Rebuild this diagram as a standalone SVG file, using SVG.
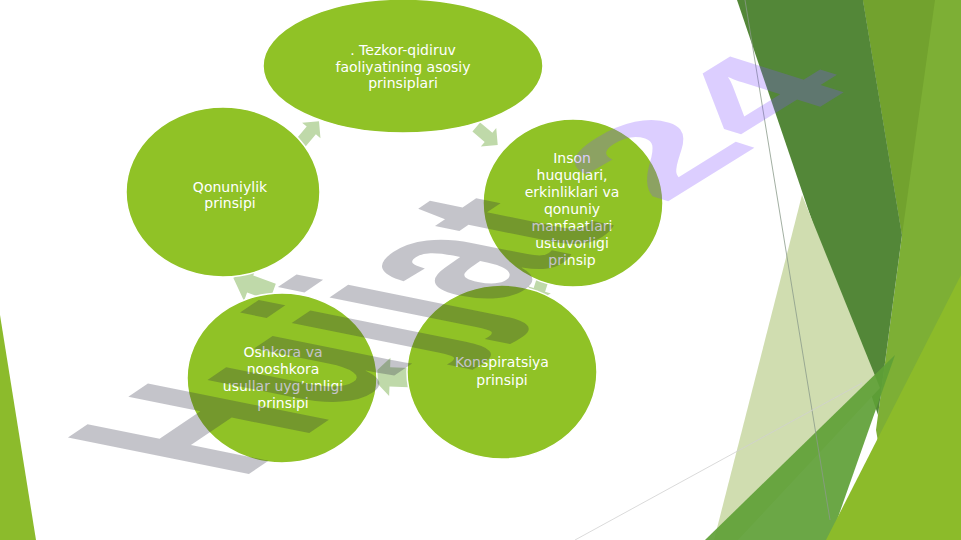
<svg xmlns="http://www.w3.org/2000/svg" width="961" height="540" viewBox="0 0 961 540">
<defs>
<style>
.node ellipse{fill:#90C226;stroke:#ffffff;stroke-width:1.5}
.lbl{font-family:"DejaVu Sans","Open Sans",sans-serif;font-size:14px;fill:#ffffff;text-anchor:middle}
.arr{fill:#bfd9a9}
.thin{fill:none;stroke-width:0.8}
</style>
<path id="arrowShape" d="M-14,-6 L2,-6 L2,-12 L14,0 L2,12 L2,6 L-14,6 Z"/>
</defs>
<rect width="961" height="540" fill="#ffffff"/>
<g id="decor">
<polygon points="0,315 36,540 0,540" fill="#8cbb2c"/>
<polygon points="863,0 961,0 961,540 895,540 876,430 902,235" fill="#7daf35"/>
<polygon points="863,0 935,0 902,235" fill="#72a22e"/>
<polygon points="737,0 863,0 902,235 878,415" fill="#538738"/>
<polygon points="802,195 880,388 738,540 714,540" fill="#d0ddb0"/>
<polygon points="705,540 830,540 895,355" fill="#5ea036" fill-opacity="0.92"/>
<polygon points="961,275 961,540 826,540" fill="#8cbb2a"/>
<line class="thin" x1="745" y1="0" x2="830" y2="520" stroke="#8a9a8a"/>
<line class="thin" x1="575" y1="540" x2="862" y2="383" stroke="#d0d0d0"/>
</g>
<g id="connectors">
<use href="#arrowShape" class="arr" transform="translate(487,136) rotate(40)"/>
<use href="#arrowShape" class="arr" transform="translate(540,288) rotate(108)"/>
<use href="#arrowShape" class="arr" transform="translate(393,377) rotate(182) scale(1.6)"/>
<use href="#arrowShape" class="arr" transform="translate(253,285) rotate(200) scale(1.5)"/>
<use href="#arrowShape" class="arr" transform="translate(310,132) rotate(-50)"/>
</g>
<g id="node-top" class="node">
<ellipse cx="403" cy="66" rx="140" ry="67"/>
<text class="lbl"><tspan x="403" y="55">. Tezkor-qidiruv</tspan><tspan x="403" y="71.6">faoliyatining asosiy</tspan><tspan x="403" y="88.2">prinsiplari</tspan></text>
</g>
<g id="node-inson" class="node">
<ellipse cx="573" cy="203" rx="90" ry="84"/>
<text class="lbl"><tspan x="572" y="163">Inson</tspan><tspan x="572" y="180">huquqlari,</tspan><tspan x="572" y="197">erkinliklari va</tspan><tspan x="572" y="214">qonuniy</tspan><tspan x="572" y="231">manfaatlari</tspan><tspan x="572" y="248">ustuvorligi</tspan><tspan x="572" y="265">prinsip</tspan></text>
</g>
<g id="node-konspiratsiya" class="node">
<ellipse cx="502" cy="372" rx="95" ry="87"/>
<text class="lbl"><tspan x="502" y="367">Konspiratsiya</tspan><tspan x="502" y="385">prinsipi</tspan></text>
</g>
<g id="node-oshkora" class="node">
<ellipse cx="282" cy="378" rx="95" ry="85"/>
<text class="lbl"><tspan x="283" y="357">Oshkora va</tspan><tspan x="283" y="374">nooshkora</tspan><tspan x="283" y="391">usullar uyg’unligi</tspan><tspan x="283" y="408">prinsipi</tspan></text>
</g>
<g id="node-qonuniylik" class="node">
<ellipse cx="223" cy="192" rx="97" ry="85"/>
<text class="lbl"><tspan x="230" y="191.5">Qonuniylik</tspan><tspan x="230" y="208.2">prinsipi</tspan></text>
</g>
<g id="watermark" font-family="Liberation Sans, sans-serif" font-weight="bold" font-size="100">
<text transform="matrix(1.36,-0.92,2.63,0.53,239.8,480.1)" fill="#2a2a40" fill-opacity="0.28">Hujjat</text>
<text transform="matrix(1.79,-1.11,1.65,0.52,662,205)" fill="#8250ff" fill-opacity="0.28">24</text>
</g>
</svg>
